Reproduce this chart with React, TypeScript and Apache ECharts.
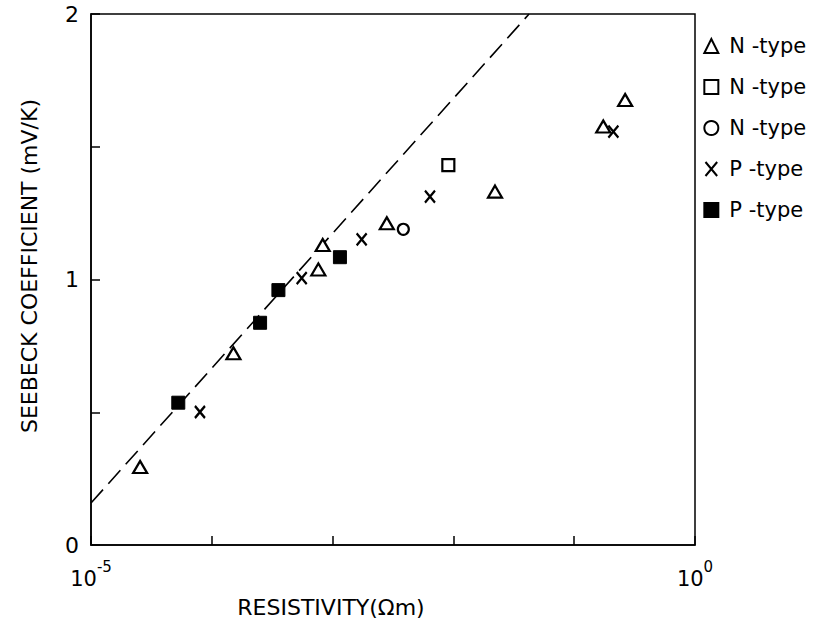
import React, { useEffect, useRef } from "react";
import * as echarts from "echarts";

// Resistivity (Ω m) and Seebeck coefficient (mV/K)
const triN_x = [2.55e-5, 1.51e-4, 7.62e-4, 8.28e-4, 2.81e-3, 0.0221, 0.174, 0.264];
const triN_y = [0.294, 0.722, 1.038, 1.13, 1.212, 1.331, 1.576, 1.676];
const sqN_x = [9.08e-3];
const sqN_y = [1.431];
const circN_x = [3.85e-3];
const circN_y = [1.189];
const xP_x = [7.98e-5, 5.55e-4, 1.74e-3, 6.4e-3, 0.211];
const xP_y = [0.501, 1.005, 1.151, 1.312, 1.557];
const fillP_x = [5.28e-5, 2.51e-4, 3.56e-4, 1.15e-3];
const fillP_y = [0.536, 0.837, 0.96, 1.084];
const fit_x = [1e-5, 0.0423];
const fit_y = [0.158, 2.0];

const seriesKeys = ["triN", "sqN", "circN", "xP", "fillP"];
const legendLabels = ["N -type", "N -type", "N -type", "P -type", "P -type"];

const FONT = "'DejaVu Sans', sans-serif";

const zip = (xs: number[], ys: number[]) => xs.map((x, i) => [x, ys[i]]);

export default function App() {
  const ref = useRef<HTMLDivElement>(null);
  useEffect(() => {
    const chart = echarts.init(ref.current!, null, { renderer: "svg" });
    const hollow = { color: "#fff", borderColor: "#000", borderWidth: 2.2, opacity: 1 };
    chart.setOption({
      animation: false,
      backgroundColor: "#fff",
      textStyle: { fontFamily: FONT },
      grid: {
        left: 91,
        top: 14,
        right: 122,
        bottom: 82,
        show: true,
        borderColor: "#000",
        borderWidth: 1.5,
        backgroundColor: "transparent",
      },
      legend: {
        orient: "vertical",
        left: 698,
        top: 30,
        itemWidth: 14,
        itemHeight: 14,
        itemGap: 19,
        data: seriesKeys,
        formatter: (name: string) => legendLabels[seriesKeys.indexOf(name)],
        textStyle: {
          fontFamily: FONT,
          fontSize: 21,
          color: "#000",
          lineHeight: 22,
          padding: [0, 0, 0, 6],
        },
      },
      xAxis: {
        type: "log",
        logBase: 10,
        min: 1e-5,
        max: 1,
        axisLine: { lineStyle: { color: "#000", width: 1.5 } },
        axisTick: { inside: true, length: 9, lineStyle: { color: "#000", width: 1.5 } },
        splitLine: { show: false },
        minorTick: { show: false },
        axisLabel: {
          margin: 14,
          showMinLabel: true,
          showMaxLabel: true,
          formatter: (v: number) => {
            const e = Math.round(Math.log10(v));
            if (e === -5) return "{b|10}{s|-5}";
            if (e === 0) return "{b|10}{s|0}";
            return "";
          },
          rich: {
            b: { fontSize: 21, fontFamily: FONT, color: "#000", verticalAlign: "bottom", lineHeight: 30 },
            s: { fontSize: 15, fontFamily: FONT, color: "#000", verticalAlign: "top", lineHeight: 30 },
          },
        },
      },
      yAxis: {
        type: "value",
        min: 0,
        max: 2,
        interval: 0.5,
        axisLine: { show: true, lineStyle: { color: "#000", width: 1.5 } },
        axisTick: { show: true, inside: true, length: 9, lineStyle: { color: "#000", width: 1.5 } },
        splitLine: { show: false },
        axisLabel: {
          margin: 12,
          fontSize: 22,
          fontFamily: FONT,
          color: "#000",
          formatter: (v: number) => (Number.isInteger(v) ? String(v) : ""),
        },
      },
      graphic: [
        {
          type: "text",
          rotation: Math.PI / 2,
          x: 29,
          y: 266,
          style: {
            text: "SEEBECK COEFFICIENT (mV/K)",
            fontSize: 22,
            fontFamily: FONT,
            fill: "#000",
            textAlign: "center",
            textVerticalAlign: "middle",
          },
        },
        {
          type: "text",
          x: 331,
          y: 607,
          style: {
            text: "RESISTIVITY(Ωm)",
            fontSize: 22,
            fontFamily: FONT,
            fill: "#000",
            textAlign: "center",
            textVerticalAlign: "middle",
          },
        },
      ],
      series: [
        {
          name: "fit",
          type: "line",
          data: zip(fit_x, fit_y),
          symbol: "none",
          lineStyle: { color: "#000", width: 1.6, type: [18, 8] },
          silent: true,
          z: 1,
        },
        {
          name: "triN",
          type: "scatter",
          data: zip(triN_x, triN_y),
          symbol: "triangle",
          symbolSize: [14, 12],
          itemStyle: hollow,
          z: 3,
        },
        {
          name: "sqN",
          type: "scatter",
          data: zip(sqN_x, sqN_y),
          symbol: "rect",
          symbolSize: 12,
          itemStyle: hollow,
          z: 3,
        },
        {
          name: "circN",
          type: "scatter",
          data: zip(circN_x, circN_y),
          symbol: "circle",
          symbolSize: 11,
          itemStyle: hollow,
          z: 3,
        },
        {
          name: "xP",
          type: "scatter",
          data: zip(xP_x, xP_y),
          symbol: "path://M0,0L10,12M10,0L0,12",
          symbolSize: [10, 12],
          itemStyle: { color: "none", borderColor: "#000", borderWidth: 2.4, opacity: 1 },
          z: 3,
        },
        {
          name: "fillP",
          type: "scatter",
          data: zip(fillP_x, fillP_y),
          symbol: "rect",
          symbolSize: 13,
          itemStyle: { color: "#000", borderColor: "#000", borderWidth: 1, opacity: 1 },
          z: 4,
        },
      ],
    });
    return () => chart.dispose();
  }, []);
  return (
    <div
      ref={ref}
      style={{ position: "fixed", left: 0, top: 0, width: 817, height: 627 }}
    />
  );
}
